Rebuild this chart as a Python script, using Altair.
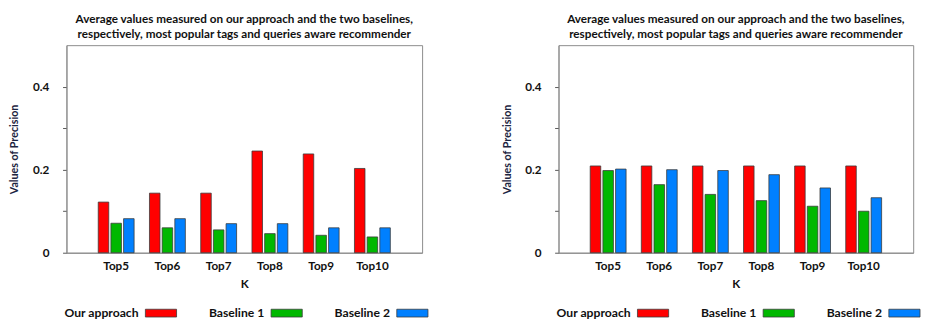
import altair as alt
import pandas as pd

categories = ["Top5", "Top6", "Top7", "Top8", "Top9", "Top10"]
series = ["Our approach", "Baseline 1", "Baseline 2"]
colors = ["#FF0000", "#00B800", "#0080FF"]

left_ours = [0.122, 0.1435, 0.1435, 0.245, 0.238, 0.203]
left_b1 = [0.071, 0.060, 0.055, 0.046, 0.042, 0.038]
left_b2 = [0.082, 0.082, 0.070, 0.070, 0.060, 0.060]

right_ours = [0.209, 0.209, 0.209, 0.209, 0.209, 0.209]
right_b1 = [0.198, 0.164, 0.1405, 0.1255, 0.112, 0.100]
right_b2 = [0.2015, 0.200, 0.198, 0.188, 0.156, 0.1325]

title_lines = ["Average values measured on our approach and the two baselines,",
               "respectively, most popular tags and queries aware recommender"]
y_title = "Values of Precision"
x_title = "K"

FONT = "Lato"
TXT = "#111111"


def make_df(ours, b1, b2):
    rows = []
    for name, vals in zip(series, [ours, b1, b2]):
        for c, v in zip(categories, vals):
            rows.append({"k": c, "series": name, "value": v})
    return pd.DataFrame(rows)


def bars(df, w):
    return alt.Chart(df, title=alt.Title(title_lines, fontSize=12, font=FONT, fontWeight="bold",
                                          color=TXT, lineHeight=16, offset=4, frame="group")).mark_bar(
        stroke="#3a3a3a", strokeWidth=0.8
    ).encode(
        x=alt.X("k:N", sort=categories, title=x_title,
                scale=alt.Scale(paddingInner=0.3, paddingOuter=0.62),
                axis=alt.Axis(labelAngle=0, ticks=False, labelPadding=8, titlePadding=8,
                              labelFont=FONT, labelFontSize=12, labelFontWeight="bold",
                              labelColor=TXT, titleFont=FONT, titleFontSize=12,
                              titleFontWeight="bold", titleColor=TXT,
                              domainColor="#8a8a8a")),
        xOffset=alt.XOffset("series:N", sort=series,
                            scale=alt.Scale(paddingInner=0.17, paddingOuter=0)),
        y=alt.Y("value:Q", title=y_title,
                scale=alt.Scale(domain=[0, 0.5], nice=False),
                axis=alt.Axis(values=[0, 0.1, 0.2, 0.3, 0.4], grid=False, tickSize=4,
                              tickColor="#555555", domainColor="#8a8a8a",
                              labelExpr="(abs(datum.value-0.2)<1e-6 || abs(datum.value-0.4)<1e-6) ? format(datum.value, '.1f') : (datum.value == 0 ? '0' : '')",
                              labelPadding=14, titlePadding=13,
                              labelFont=FONT, labelFontSize=12, labelFontWeight="bold",
                              labelColor=TXT, titleFont=FONT, titleFontSize=11,
                              titleFontWeight="bold", titleColor="#1c2541")),
        color=alt.Color("series:N", sort=series,
                        scale=alt.Scale(domain=series, range=colors), legend=None),
    ).properties(width=w, height=213)


leg_df = pd.DataFrame({"series": series})


def legend(w):
    sc = alt.Scale(domain=series, range=[81, 371], paddingInner=0.752, paddingOuter=0)
    base = alt.Chart(leg_df)
    sw = base.mark_rect(stroke="#3a3a3a", strokeWidth=0.8).encode(
        x=alt.X("series:N", sort=series, axis=None, scale=sc),
        color=alt.Color("series:N", sort=series,
                        scale=alt.Scale(domain=series, range=colors), legend=None),
    )
    tx = base.mark_text(align="right", dx=-7, font=FONT, fontSize=12.5, fontWeight="bold",
                        color=TXT).encode(
        x=alt.X("series:N", sort=series, axis=None, bandPosition=0, scale=sc),
        text="series:N",
    )
    return alt.layer(sw, tx).properties(width=w, height=8,
                                         view=alt.ViewBackground(stroke="transparent"))


left = alt.vconcat(bars(make_df(left_ours, left_b1, left_b2), 365), legend(365),
                   spacing=58, bounds="flush")
right = alt.vconcat(bars(make_df(right_ours, right_b1, right_b2), 364), legend(364),
                    spacing=58, bounds="flush")

chart = alt.hconcat(left, right, spacing=73).properties(
    padding=0
).configure_view(stroke="#8a8a8a", strokeWidth=1)

chart.save("out.html", embed_options={"renderer": "svg", "actions": False})
